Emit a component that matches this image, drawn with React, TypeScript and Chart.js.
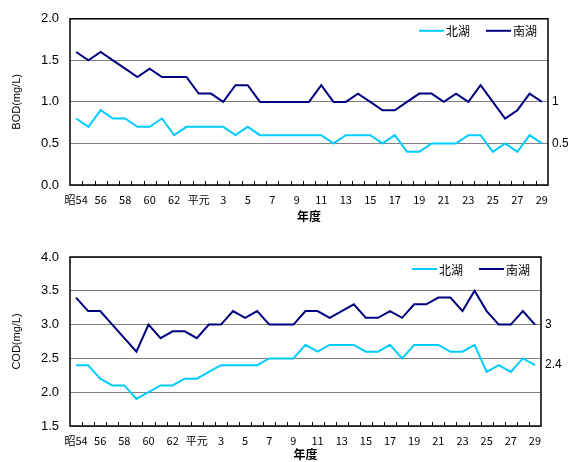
import React, { useEffect, useRef } from 'react';
import { Chart, registerables } from 'chart.js';

Chart.register(...registerables);

const categories = [
  '昭54', '55', '56', '57', '58', '59', '60', '61', '62', '63',
  '平元', '2', '3', '4', '5', '6', '7', '8', '9', '10',
  '11', '12', '13', '14', '15', '16', '17', '18', '19', '20',
  '21', '22', '23', '24', '25', '26', '27', '28', '29',
];

const seriesNames = ['北湖', '南湖'];

const bodNorth = [
  0.8, 0.7, 0.9, 0.8, 0.8, 0.7, 0.7, 0.8, 0.6, 0.7,
  0.7, 0.7, 0.7, 0.6, 0.7, 0.6, 0.6, 0.6, 0.6, 0.6,
  0.6, 0.5, 0.6, 0.6, 0.6, 0.5, 0.6, 0.4, 0.4, 0.5,
  0.5, 0.5, 0.6, 0.6, 0.4, 0.5, 0.4, 0.6, 0.5,
];
const bodSouth = [
  1.6, 1.5, 1.6, 1.5, 1.4, 1.3, 1.4, 1.3, 1.3, 1.3,
  1.1, 1.1, 1.0, 1.2, 1.2, 1.0, 1.0, 1.0, 1.0, 1.0,
  1.2, 1.0, 1.0, 1.1, 1.0, 0.9, 0.9, 1.0, 1.1, 1.1,
  1.0, 1.1, 1.0, 1.2, 1.0, 0.8, 0.9, 1.1, 1.0,
];
const codNorth = [
  2.4, 2.4, 2.2, 2.1, 2.1, 1.9, 2.0, 2.1, 2.1, 2.2,
  2.2, 2.3, 2.4, 2.4, 2.4, 2.4, 2.5, 2.5, 2.5, 2.7,
  2.6, 2.7, 2.7, 2.7, 2.6, 2.6, 2.7, 2.5, 2.7, 2.7,
  2.7, 2.6, 2.6, 2.7, 2.3, 2.4, 2.3, 2.5, 2.4,
];
const codSouth = [
  3.4, 3.2, 3.2, 3.0, 2.8, 2.6, 3.0, 2.8, 2.9, 2.9,
  2.8, 3.0, 3.0, 3.2, 3.1, 3.2, 3.0, 3.0, 3.0, 3.2,
  3.2, 3.1, 3.2, 3.3, 3.1, 3.1, 3.2, 3.1, 3.3, 3.3,
  3.4, 3.4, 3.2, 3.5, 3.2, 3.0, 3.0, 3.2, 3.0,
];

const bodRange = [0, 2.0];
const codRange = [1.5, 4.0];
const tickStep = 0.5;

const NORTH_COLOR = '#00CCFF';
const SOUTH_COLOR = '#000080';
const FONT = "'Liberation Sans', 'Noto Sans CJK JP', sans-serif";
const CJK_FONT = "'Noto Sans CJK JP', 'Liberation Sans', sans-serif";

const decorPlugin = {
  id: 'decor',
  afterDatasetsDraw(chart: any) {
    const { ctx, chartArea } = chart;
    const { left, right, top, bottom } = chartArea;
    const n = chart.data.labels.length;
    const w = (right - left) / n;
    ctx.save();
    // inward ticks on x axis
    ctx.strokeStyle = '#000';
    ctx.lineWidth = 1;
    ctx.beginPath();
    for (let i = 1; i < n; i++) {
      const x = Math.round(left + i * w) + 0.5;
      ctx.moveTo(x, bottom);
      ctx.lineTo(x, bottom - 4);
    }
    ctx.stroke();
    // frame
    ctx.lineWidth = 1.5;
    ctx.strokeRect(left, top, right - left, bottom - top);

    // end labels
    ctx.fillStyle = '#000';
    ctx.font = `12px ${FONT}`;
    ctx.textAlign = 'left';
    ctx.textBaseline = 'middle';
    const ys = chart.scales.y;
    chart.data.datasets.forEach((ds: any) => {
      const v = ds.data[ds.data.length - 1];
      ctx.fillText(String(v), right + 4, ys.getPixelForValue(v));
    });

    // legend
    ctx.font = `12px ${CJK_FONT}`;
    const lineLen = 25;
    const gapText = 2;
    const gapItem = 16;
    const widths = chart.data.datasets.map((ds: any) => ctx.measureText(ds.label).width);
    let total = 0;
    widths.forEach((tw: number, i: number) => {
      total += lineLen + gapText + tw + (i > 0 ? gapItem : 0);
    });
    let x = right - 11 - total;
    const ly = top + 12;
    chart.data.datasets.forEach((ds: any, i: number) => {
      if (i > 0) x += gapItem;
      ctx.strokeStyle = ds.borderColor;
      ctx.lineWidth = 2;
      ctx.beginPath();
      ctx.moveTo(x, ly);
      ctx.lineTo(x + lineLen, ly);
      ctx.stroke();
      x += lineLen + gapText;
      ctx.fillStyle = '#000';
      ctx.fillText(ds.label, x, ly + 1);
      x += widths[i];
    });
    ctx.restore();
  },
};

type PanelProps = {
  top: number;
  height: number;
  north: number[];
  south: number[];
  range: number[];
  yTitle: string;
  padTop: number;
  padRight: number;
  xAxisHeight: number;
  titlePadBottom: number;
};

function Panel(props: PanelProps) {
  const ref = useRef<HTMLCanvasElement>(null);
  useEffect(() => {
    const { north, south, range, yTitle, padTop, padRight, xAxisHeight, titlePadBottom } = props;
    const chart = new Chart(ref.current as HTMLCanvasElement, {
      type: 'line',
      data: {
        labels: categories,
        datasets: [
          {
            label: seriesNames[0],
            data: north,
            borderColor: NORTH_COLOR,
            backgroundColor: NORTH_COLOR,
            borderWidth: 2,
            pointRadius: 0,
            tension: 0,
          },
          {
            label: seriesNames[1],
            data: south,
            borderColor: SOUTH_COLOR,
            backgroundColor: SOUTH_COLOR,
            borderWidth: 2,
            pointRadius: 0,
            tension: 0,
          },
        ],
      },
      options: {
        responsive: false,
        animation: false,
        devicePixelRatio: 1,
        layout: { padding: { top: padTop, right: padRight, bottom: 0, left: 0 } },
        plugins: {
          legend: { display: false },
          tooltip: { enabled: false },
        },
        scales: {
          x: {
            type: 'category',
            offset: true,
            grid: { display: false, drawTicks: false },
            border: { display: false },
            ticks: {
              autoSkip: false,
              maxRotation: 0,
              minRotation: 0,
              padding: 8,
              color: '#000',
              font: { family: CJK_FONT, size: 11 },
              callback: (_v: any, i: number) => (i % 2 === 0 ? categories[i] : ''),
            },
            title: {
              display: true,
              text: '年度',
              color: '#000',
              font: { family: CJK_FONT, size: 12, weight: 'bold' },
              padding: { top: 0, bottom: titlePadBottom },
            },
            afterFit: (scale: any) => {
              scale.height = xAxisHeight;
            },
          },
          y: {
            min: range[0],
            max: range[1],
            grid: { color: '#808080', lineWidth: 1, drawTicks: false },
            border: { display: false },
            ticks: {
              stepSize: tickStep,
              padding: 11,
              color: '#000',
              font: { family: FONT, size: 13 },
              callback: (v: any) => Number(v).toFixed(1),
            },
            title: {
              display: true,
              text: yTitle,
              color: '#000',
              font: { family: FONT, size: 11 },
              padding: { top: 10, bottom: 0 },
            },
            afterFit: (scale: any) => {
              scale.width = 70;
            },
          },
        },
      },
      plugins: [decorPlugin],
    } as any);
    return () => chart.destroy();
  }, []);
  return (
    <canvas
      ref={ref}
      width={568}
      height={props.height}
      style={{ position: 'absolute', left: 0, top: props.top, width: 568, height: props.height }}
    />
  );
}

export default function App() {
  return (
    <div style={{ position: 'absolute', left: 0, top: 0, width: 568, height: 462, background: '#fff' }}>
      <Panel
        top={0}
        height={231}
        north={bodNorth}
        south={bodSouth}
        range={bodRange}
        yTitle="BOD(mg/L)"
        padTop={15}
        padRight={20}
        xAxisHeight={46}
        titlePadBottom={7}
      />
      <Panel
        top={231}
        height={231}
        north={codNorth}
        south={codSouth}
        range={codRange}
        yTitle="COD(mg/L)"
        padTop={26}
        padRight={27}
        xAxisHeight={36}
        titlePadBottom={0}
      />
    </div>
  );
}
